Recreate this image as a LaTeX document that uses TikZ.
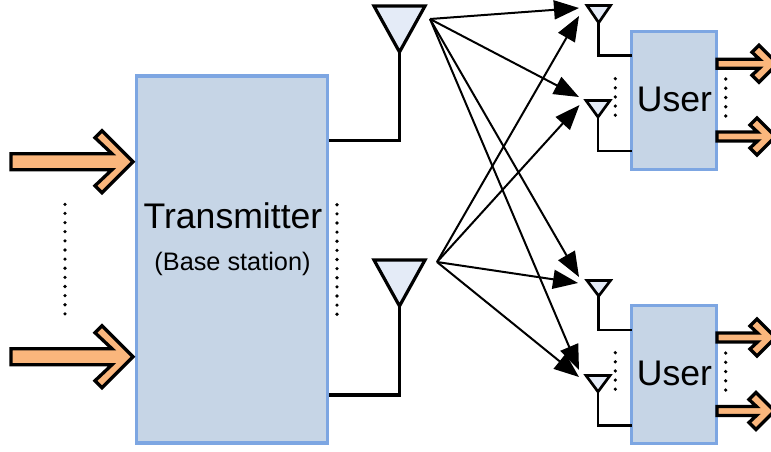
\documentclass[tikz,border=0pt]{standalone}
\usepackage{fontspec}
\setmainfont{Liberation Sans}
\usetikzlibrary{arrows.meta}
\definecolor{boxfill}{HTML}{C6D5E6}
\definecolor{boxline}{HTML}{7DA6E2}
\definecolor{antfill}{HTML}{E4EBF7}
\definecolor{fatfill}{HTML}{FAB67C}
\tikzset{
  unitbox/.style={draw=boxline,fill=boxfill,line width=3.2pt,rectangle,inner sep=0pt,outer sep=0pt},
  bigant/.style={draw=black,fill=antfill,line width=3.2pt,line join=miter},
  smallant/.style={draw=black,fill=antfill,line width=2.7pt,line join=miter},
  feed/.style={draw=black,line width=3.4pt,line join=miter},
  smallfeed/.style={draw=black,line width=2.8pt,line join=miter},
  radio/.style={draw=black,line width=2pt,-{Triangle[length=25pt,width=19pt]}},
  fatarrow/.style={draw=black,fill=fatfill,line width=3.3pt,line join=miter},
  dotrow/.style={draw=black,line width=3.6pt,line cap=round,dash pattern=on 0pt off #1},
  bigtext/.style={font=\fontsize{35.6}{36}\selectfont,anchor=base,inner sep=0pt},
  midtext/.style={font=\fontsize{25.3}{26}\selectfont,anchor=base,inner sep=0pt},
}
\newcommand{\inarrow}[1]{\draw[fatarrow] (#1) ++(-122,8) -- ++(101,0) -- ++(-17,16) -- ++(7,7) -- (#1) -- ++(-31,-31) -- ++(-7,7) -- ++(17,16) -- ++(-101,0) -- cycle;}
\newcommand{\outarrow}[2]{\draw[fatarrow] (#1) ++(0,4.5) -- ++(#2,0) -- ++(-7.5,7) -- ++(7,7) -- ++(18.5,-18.5) -- ++(-18.5,-18.5) -- ++(-7,7) -- ++(7.5,7) -- ++(-#2,0) -- cycle;}
\begin{document}
\begin{tikzpicture}[x=1pt,y=-1pt]
\useasboundingbox (0,0) rectangle (771,451);
\clip (0,0) rectangle (771,451);

% boxes
\node[unitbox,minimum width=191pt,minimum height=367pt] (tx) at (232,259.5) {};
\node[unitbox,minimum width=85pt,minimum height=138pt] (u1) at (674,100.5) {};
\node[unitbox,minimum width=85pt,minimum height=138pt] (u2) at (674,374.5) {};

% labels
\node[bigtext] (txt) at (233,228) {Transmitter};
\node[midtext] (bs) at (232.5,270) {(Base station)};
\node[bigtext] (ut1) at (674.5,111) {User};
\node[bigtext] (ut2) at (674.5,385.5) {User};

% antenna apexes and feed ends
\coordinate (a1) at (399.5,52);
\coordinate (a2) at (399.5,306);
\coordinate (f1) at (329,140.5);
\coordinate (f2) at (329,395);
\coordinate (s1) at (598.7,22.7);
\coordinate (s2) at (598,117);
\coordinate (s3) at (598.7,296);
\coordinate (s4) at (598,391.7);
\coordinate (g1) at (632,55.5);
\coordinate (g2) at (632,151);
\coordinate (g3) at (632,330);
\coordinate (g4) at (632,425.5);

% feeds
\draw[feed] (a1) -- (a1 |- f1) -- (f1);
\draw[feed] (a2) -- (a2 |- f2) -- (f2);
\draw[smallfeed] (s1) -- (s1 |- g1) -- (g1);
\draw[smallfeed] (s2) -- (s2 |- g2) -- (g2);
\draw[smallfeed] (s3) -- (s3 |- g3) -- (g3);
\draw[smallfeed] (s4) -- (s4 |- g4) -- (g4);

% antennas
\draw[bigant] (a1) -- (374,6) -- (425,6) -- cycle;
\draw[bigant] (a2) -- (374,260) -- (425,260) -- cycle;
\draw[smallant] (s1) -- (587,5.5) -- (610.5,5.5) -- cycle;
\draw[smallant] (s2) -- (586,100.5) -- (610,100.5) -- cycle;
\draw[smallant] (s3) -- (587,280.5) -- (610.5,280.5) -- cycle;
\draw[smallant] (s4) -- (586,375.5) -- (610,375.5) -- cycle;

% radio links
\coordinate (ra) at (430,19);
\coordinate (rb) at (437,262);
\coordinate (t1a) at (579,8);
\coordinate (t1b) at (579,16);
\coordinate (t2a) at (579,97);
\coordinate (t2b) at (579.5,105);
\coordinate (t3a) at (579,277);
\coordinate (t3b) at (578,283);
\coordinate (t4a) at (579,370);
\coordinate (t4b) at (579,377);
\foreach \t in {t1a,t2a,t3a,t4a} \draw[radio] (ra) -- (\t);
\foreach \t in {t1b,t2b,t3b,t4b} \draw[radio] (rb) -- (\t);

% fat arrows
\coordinate (in1) at (133,161.7);
\coordinate (in2) at (133,356.7);
\inarrow{in1}
\inarrow{in2}
\coordinate (o1) at (717,63.7);
\coordinate (o2) at (717,136.5);
\coordinate (o3) at (717,337.5);
\coordinate (o4) at (717,411);
\outarrow{o1}{42.5}
\outarrow{o2}{40.5}
\outarrow{o3}{40.5}
\outarrow{o4}{39.5}

% dots
\coordinate (d1a) at (65,204.3);
\coordinate (d1b) at (65,314.5);
\coordinate (d2a) at (337,204.7);
\coordinate (d2b) at (337,314.9);
\coordinate (d3a) at (615.3,78.7);
\coordinate (d3b) at (615.3,116);
\coordinate (d4a) at (725.7,79);
\coordinate (d4b) at (725.7,117);
\coordinate (d5a) at (615.3,352.7);
\coordinate (d5b) at (615.3,390);
\coordinate (d6a) at (725.7,353);
\coordinate (d6b) at (725.7,391);
\draw[dotrow=9.13pt] (d1a) -- (d1b);
\draw[dotrow=9.13pt] (d2a) -- (d2b);
\draw[dotrow=9.13pt] (d3a) -- (d3b);
\draw[dotrow=9.25pt] (d4a) -- (d4b);
\draw[dotrow=9.13pt] (d5a) -- (d5b);
\draw[dotrow=9.25pt] (d6a) -- (d6b);
\end{tikzpicture}
\end{document}
